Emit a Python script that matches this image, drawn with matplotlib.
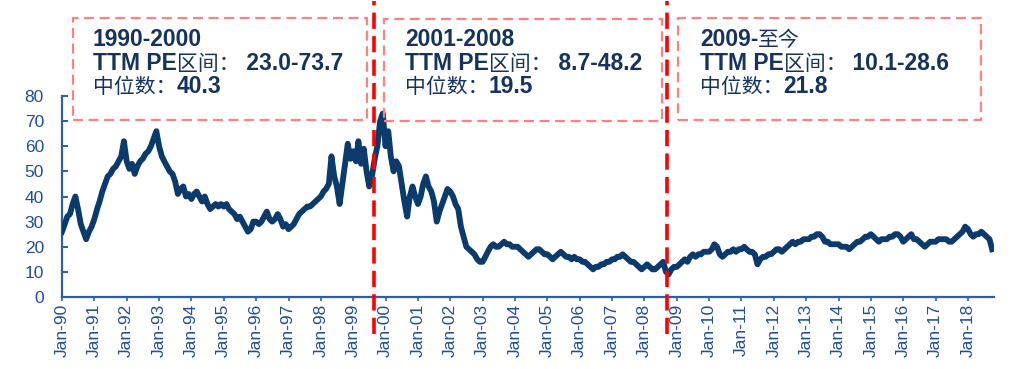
import matplotlib
matplotlib.use("Agg")
import matplotlib.pyplot as plt
import matplotlib.dates as mdates
from matplotlib.patches import Rectangle
import numpy as np
import pandas as pd

# monthly TTM PE (Jan 1990 .. Oct 2018)
pe_1990_1994 = [
    26, 29, 32, 33, 37, 40, 35, 29, 26, 23, 26, 28,
    31, 35, 38, 42, 45, 48, 49, 51, 52, 54, 56, 62,
    54, 51, 53, 49, 52, 54, 55, 57, 58, 60, 63, 66,
    60, 56, 54, 52, 50, 49, 46, 41, 43, 44, 40, 41,
    39, 41, 42, 40, 38, 40, 37, 35, 36, 37, 36, 37,
]
pe_1995_1999 = [
    36, 37, 35, 34, 33, 31, 32, 30, 28, 26, 27, 30,
    30, 29, 30, 32, 34, 31, 30, 31, 33, 31, 28, 29,
    27, 28, 29, 31, 33, 34, 35, 36, 36, 37, 38, 39,
    40, 42, 43, 45, 56, 48, 44, 37, 45, 53, 61, 55,
    58, 54, 62, 53, 59, 50, 44, 48, 55, 60, 70, 73,
]
pe_2000_2004 = [
    60, 66, 56, 50, 54, 52, 45, 38, 32, 40, 44, 40,
    37, 40, 45, 48, 44, 42, 38, 30, 34, 37, 40, 43,
    42, 40, 37, 35, 28, 24, 20, 19, 18, 17, 15, 14,
    14, 16, 18, 20, 21, 20, 20, 21, 22, 21, 21, 20,
    20, 20, 19, 18, 17, 16, 17, 18, 19, 19, 18, 17,
]
pe_2005_2009 = [
    17, 16, 15, 16, 17, 18, 17, 16, 16, 15, 16, 15,
    15, 14, 14, 13, 12, 11, 12, 12, 13, 13, 14, 14,
    15, 15, 16, 16, 17, 16, 15, 14, 14, 13, 12, 11,
    12, 13, 12, 11, 11, 12, 13, 14, 10, 9, 11, 12,
    12, 13, 14, 15, 14, 16, 17, 16, 17, 17, 18, 18,
]
pe_2010_2014 = [
    18, 19, 21, 20, 17, 16, 17, 18, 18, 19, 18, 19,
    19, 20, 19, 18, 18, 17, 13, 15, 16, 16, 17, 17,
    18, 19, 19, 18, 19, 20, 21, 22, 21, 22, 22, 23,
    23, 23, 24, 24, 25, 25, 24, 22, 22, 21, 21, 21,
    21, 20, 20, 20, 19, 20, 21, 22, 22, 23, 24, 24,
]
pe_2015_2018 = [
    25, 24, 23, 22, 23, 23, 23, 24, 24, 25, 25, 24,
    22, 23, 24, 25, 23, 23, 22, 21, 20, 21, 22, 22,
    22, 23, 23, 23, 23, 22, 22, 23, 24, 25, 26, 28,
    27, 25, 24, 25, 25, 26, 25, 24, 23, 19,
]

split_dates = ["1999-08-20", "2008-09-12"]
box_titles = [["1990-2000"], ["2001-2008"], ["2009-", "至今"]]
box_ranges = ["23.0-73.7", "8.7-48.2", "10.1-28.6"]
box_medians = ["40.3", "19.5", "21.8"]

pe = pe_1990_1994 + pe_1995_1999 + pe_2000_2004 + pe_2005_2009 + pe_2010_2014 + pe_2015_2018
dates = pd.date_range("1990-01-01", periods=len(pe), freq="MS")

W, H = 1024, 369
line_color = "#0B3A6C"
text_color = "#15335E"
axis_color = "#2C5DA8"

fig = plt.figure(figsize=(W / 100, H / 100), dpi=100)
ax = fig.add_axes([62 / W, 1 - 297 / H, (994 - 62) / W, (297 - 96) / H])

ax.plot(dates, pe, color=line_color, lw=4.2, solid_joinstyle="round", zorder=3)

ax.set_ylim(0, 80)
ax.set_yticks(np.arange(0, 81, 10))
ax.set_xlim(pd.Timestamp("1990-01-01"), pd.Timestamp("2018-10-22"))
ax.xaxis.set_major_locator(mdates.YearLocator(1, month=1, day=1))
ax.xaxis.set_major_formatter(mdates.DateFormatter("%b-%y"))

for s in ["top", "right"]:
    ax.spines[s].set_visible(False)
for s in ["left", "bottom"]:
    ax.spines[s].set_color(axis_color)
    ax.spines[s].set_linewidth(1.6)

ax.tick_params(axis="y", direction="in", length=4.5, width=1.4, color=axis_color,
               labelcolor="#1F4E9A", labelsize=12.5, pad=13)
ax.tick_params(axis="x", direction="out", length=3, width=1.2, color=axis_color,
               labelcolor="#1F4E9A", labelsize=12.5, pad=2, labelrotation=90)
for lab in ax.get_xticklabels() + ax.get_yticklabels():
    lab.set_fontfamily("Liberation Sans")

# red dashed split lines (run beyond the axes)
for d in split_dates:
    ax.axvline(pd.Timestamp(d), ymin=(297 - 334) / 201, ymax=(297 - 1) / 201,
               color="#FF0000", lw=2.6, ls=(0, (4.5, 2)), clip_on=False, zorder=4)

# dashed annotation boxes (pixel layout -> figure fraction)
boxes = [(73, 18, 367, 120), (384, 19, 662, 121), (678, 18, 981, 120)]
text_x = [93, 405, 700]
for (x0, y0, x1, y1) in boxes:
    fig.patches.append(Rectangle((x0 / W, 1 - y1 / H), (x1 - x0) / W, (y1 - y0) / H,
                                 transform=fig.transFigure, fill=False,
                                 edgecolor="#FF8080", lw=1.6, ls=(0, (4.5, 2.5))))

latin = dict(family="Liberation Sans", weight="bold", size=16.5, color=text_color)
cjk = dict(family="Noto Sans CJK SC", weight="normal", size=15, color=text_color)


def rich_line(x, y, parts):
    first, kind = parts[0]
    t = fig.text(x / W, 1 - y / H, first, va="baseline", ha="left",
                 **(cjk if kind == "c" else latin))
    for s, kind in parts[1:]:
        t = ax.annotate(s, xy=(1, 0), xycoords=t, va="bottom", ha="left",
                        annotation_clip=False, **(cjk if kind == "c" else latin))


for i in range(3):
    tx = text_x[i]
    title_parts = [(box_titles[i][0], "l")]
    if len(box_titles[i]) > 1:
        title_parts.append((box_titles[i][1], "c"))
    rich_line(tx, 46, title_parts)
    rich_line(tx, 70, [("TTM PE", "l"), ("区间：", "c"), (" " + box_ranges[i], "l")])
    rich_line(tx, 93, [("中位数：", "c"), (box_medians[i], "l")])

fig.savefig("out.png", dpi=100)
